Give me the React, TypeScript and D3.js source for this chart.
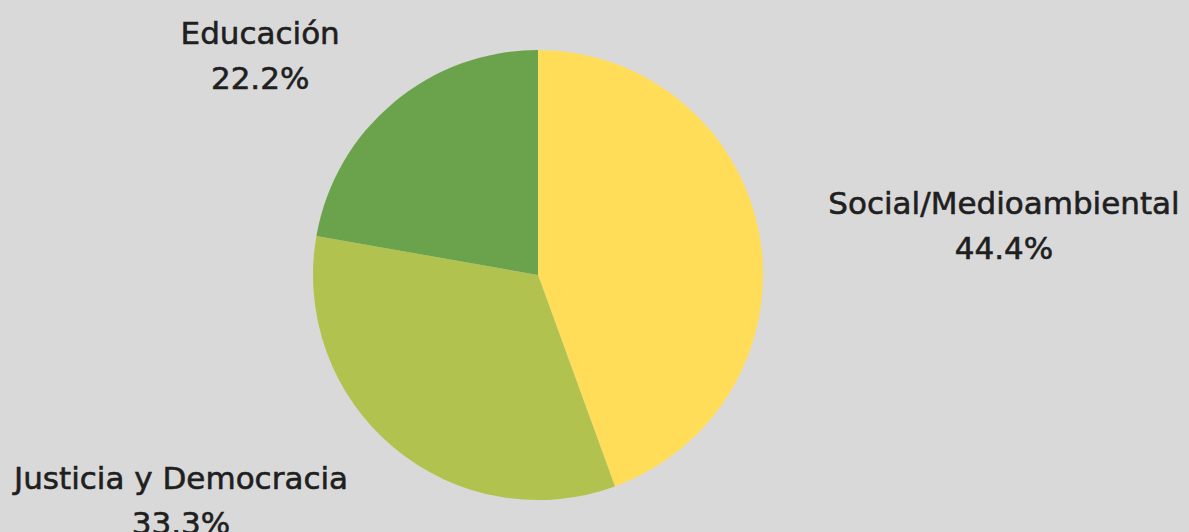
import React, {useEffect, useRef} from "react";
import * as d3 from "d3";

const categories = ["Social/Medioambiental", "Justicia y Democracia", "Educación"];
const values = [44.4, 33.3, 22.2];
const colors = ["#FFDD59", "#B2C24F", "#6AA34B"];

// label placement (first baseline): angle in deg clockwise from top, distance as a multiple of radius
const labelAngles = [82.3, 239.3, 310.0];
const labelDist = [2.09, 1.845, 1.612];

const width = 1189;
const height = 532;

function PieChart(): JSX.Element {
    const ref = useRef<SVGSVGElement>(null);

    useEffect(() => {
        document.body.style.margin = "0";
        if (!ref.current) return;
        const svg = d3.select(ref.current);
        svg.selectAll("*").remove();

        const cx = 538, cy = 275, radius = 225;

        svg.append("rect")
            .attr("width", width)
            .attr("height", height)
            .attr("fill", "#D9D9D9");

        const data = categories.map((c, i) => ({name: c, value: values[i], color: colors[i]}));
        const pie = d3.pie<typeof data[0]>().value(d => d.value).sort(null);
        const arc = d3.arc<d3.PieArcDatum<typeof data[0]>>().innerRadius(0).outerRadius(radius);

        const g = svg.append("g").attr("transform", `translate(${cx}, ${cy})`);
        g.selectAll("path")
            .data(pie(data))
            .enter()
            .append("path")
            .attr("d", arc)
            .attr("fill", d => d.data.color);

        const labels = g.selectAll("g.label")
            .data(pie(data))
            .enter()
            .append("g")
            .attr("class", "label")
            .attr("transform", (d, i) => {
                const [x, y] = d3.pointRadial(labelAngles[i] * Math.PI / 180, radius * labelDist[i]);
                return `translate(${x}, ${y})`;
            });

        const style = (t: any) => t
            .attr("text-anchor", "middle")
            .style("font-family", "'DejaVu Sans', sans-serif")
            .style("font-size", "31px")
            .attr("fill", "#1f1f1f")
            .attr("stroke", "#1f1f1f")
            .attr("stroke-width", 0.6);

        labels.append("text")
            .call(style)
            .attr("y", 2)
            .text(d => d.data.name);

        labels.append("text")
            .call(style)
            .attr("y", 47)
            .text(d => `${d.data.value.toFixed(1)}%`);
    }, []);

    return <svg ref={ref} width={width} height={height} style={{display: "block"}}/>;
}

export default function App(): JSX.Element {
    return <PieChart/>;
}
